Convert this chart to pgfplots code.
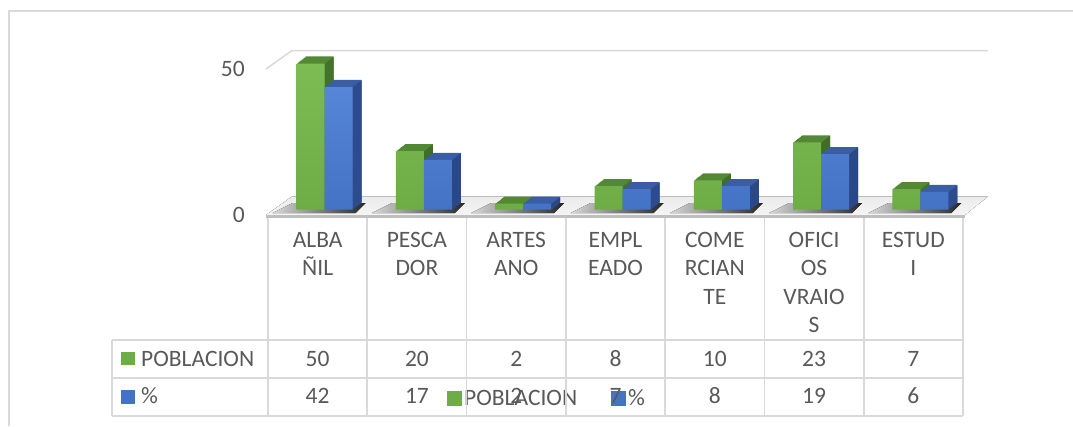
\documentclass[border=0pt]{standalone}
\usepackage{fontspec}
\setmainfont{Carlito}
\usepackage{pgfplots}
\usepackage{pgfplotstable}
\usetikzlibrary{calc}
\pgfplotsset{compat=1.18}

\definecolor{gfront}{HTML}{6EAD45}
\definecolor{gfrontl}{HTML}{7DBB53}
\definecolor{gtop}{HTML}{538835}
\definecolor{gside}{HTML}{406D28}
\definecolor{bfront}{HTML}{4472C4}
\definecolor{bfrontl}{HTML}{5686D8}
\definecolor{btop}{HTML}{3A5DA3}
\definecolor{bside}{HTML}{2A4888}
\definecolor{gridc}{HTML}{D9D9D9}
\definecolor{txt}{HTML}{595959}

\pgfplotstableread{
x pob pct
0 50 42
1 20 17
2 2 2
3 8 7
4 10 8
5 23 19
6 7 6
}\datos

\newcommand\cf{\fontsize{23.5}{28.5}\selectfont}

\begin{document}
\begin{tikzpicture}
\useasboundingbox (0,0) rectangle (1073pt,-426pt);
% outer frame
\draw[gridc, line width=1.5pt] (9pt,-426pt) -- (9pt,-11pt) -- (1073pt,-11pt);

\begin{axis}[
  at={(268pt,-215pt)}, anchor=south west,
  scale only axis, width=695pt, height=146pt,
  xmin=-0.5, xmax=6.5, ymin=0, ymax=50,
  clip=false,
  axis line style={draw=none},
  major tick length=0pt,
  tick style={draw=none},
  ytick={0,50},
  xtick={0,...,6},
  xticklabels={{ALBA\\ÑIL},{PESCA\\DOR},{ARTES\\ANO},{EMPL\\EADO},
               {COME\\RCIAN\\TE},{OFICI\\OS\\VRAIO\\S},{ESTUD\\I}},
  xticklabel style={align=center, anchor=north, inner sep=0pt, yshift=-17pt,
                    font=\cf, text=txt},
  yticklabel style={anchor=east, inner sep=0pt, xshift=-23pt, font=\cf, text=txt},
  /pgf/number format/assume math mode=true,
  legend columns=2,
  legend style={at={(0.2576,-1.255)}, anchor=west, draw=none, fill=none,
                inner sep=0pt, font=\cf, text=txt,
                nodes={inner sep=3pt},
                /tikz/every even column/.append style={column sep=31pt}},
]
% back wall gridline at 50
\draw[gridc, line width=1.5pt] ($(axis cs:-0.5,50)+(-2pt,0pt)$) -- ($(axis cs:-0.5,50)+(24pt,18.5pt)$) -- ($(axis cs:6.5,50)+(25pt,18.5pt)$);
% floor
\fill[top color=black!8, bottom color=black!4]
  ($(axis cs:-0.5,0)+(-2pt,0pt)$) -- ($(axis cs:-0.5,0)+(24pt,18.5pt)$)
  -- ($(axis cs:6.5,0)+(25pt,18.5pt)$) -- ($(axis cs:6.5,0)+(2pt,0pt)$) -- cycle;
\fill[black!25] ($(axis cs:-0.5,0)+(-2pt,0pt)$) rectangle ($(axis cs:6.5,0)+(2pt,-3pt)$);
% shadows on the floor
\pgfplotsinvokeforeach{0,1,2,3,4,5,6}{
  \fill[left color=black!15, right color=black!85]
    ($(axis cs:#1,0)+(-45pt,2pt)$) -- ($(axis cs:#1,0)+(38pt,2pt)$)
    -- ($(axis cs:#1,0)+(48pt,12pt)$) -- ($(axis cs:#1,0)+(-25pt,12pt)$) -- cycle;
}

% POBLACION bars: top, side, front
\pgfplotsinvokeforeach{9,8,7,6,5,4,3,2,1}{
  \addplot[forget plot, ybar, bar width=28pt, bar shift=-14pt, draw=none, fill=gtop,
    xshift={7pt+#1*1pt}, yshift={5.5pt+#1*0.78pt}] table[x=x,y=pob]{\datos};
}
\pgfplotsinvokeforeach{8,7,6,5,4,3,2,1,0}{
  \addplot[forget plot, ybar, bar width=1pt, bar shift=0.5pt, draw=none, fill=gside,
    xshift={7pt+#1*1pt}, yshift={5.5pt+#1*0.78pt}] table[x=x,y=pob]{\datos};
}
\addplot[forget plot, ybar, bar width=28pt, bar shift=-14pt, draw=none,
  top color=gfrontl, bottom color=gfront, xshift=7pt, yshift=5.5pt]
  table[x=x,y=pob]{\datos};

% % bars: top, side, front
\pgfplotsinvokeforeach{9,8,7,6,5,4,3,2,1}{
  \addplot[forget plot, ybar, bar width=28pt, bar shift=14pt, draw=none, fill=btop,
    xshift={7pt+#1*1pt}, yshift={5.5pt+#1*0.78pt}] table[x=x,y=pct]{\datos};
}
\pgfplotsinvokeforeach{8,7,6,5,4,3,2,1,0}{
  \addplot[forget plot, ybar, bar width=1pt, bar shift=28.5pt, draw=none, fill=bside,
    xshift={7pt+#1*1pt}, yshift={5.5pt+#1*0.78pt}] table[x=x,y=pct]{\datos};
}
\addplot[forget plot, ybar, bar width=28pt, bar shift=14pt, draw=none,
  top color=bfrontl, bottom color=bfront, xshift=7pt, yshift=5.5pt]
  table[x=x,y=pct]{\datos};

\addlegendimage{legend image code/.code={\fill[gfront] (0pt,-6.8pt) rectangle (13.6pt,6.8pt);}}
\addlegendentry{POBLACION}
\addlegendimage{legend image code/.code={\fill[bfront] (0pt,-6.8pt) rectangle (13.6pt,6.8pt);}}
\addlegendentry{\%}
\end{axis}

% data table grid
\begin{scope}[gridc, line width=1.6pt]
\foreach \i in {0,...,7}{
  \draw ({268pt+\i*99.2857pt},-218pt) -- ({268pt+\i*99.2857pt},-416pt);
}
\draw (112pt,-340pt) -- (112pt,-416pt);
\draw (112pt,-340pt) -- (963pt,-340pt);
\draw (112pt,-378pt) -- (963pt,-378pt);
\draw (112pt,-416pt) -- (963pt,-416pt);
\end{scope}
% row headers
\fill[gfront] (120.5pt,-351.5pt) rectangle (134.5pt,-365pt);
\node[anchor=base west, inner sep=0pt, font=\cf, text=txt] at (141pt,-366pt) {POBLACION};
\fill[bfront] (120.5pt,-390pt) rectangle (134.5pt,-403.5pt);
\node[anchor=base west, inner sep=0pt, font=\cf, text=txt] at (141pt,-403pt) {\%};
% values
\foreach \i in {0,...,6}{
  \pgfplotstablegetelem{\i}{pob}\of\datos
  \node[anchor=base, inner sep=0pt, font=\cf, text=txt] at ({268pt+(\i+0.5)*99.2857pt},-366pt) {\pgfplotsretval};
  \pgfplotstablegetelem{\i}{pct}\of\datos
  \node[anchor=base, inner sep=0pt, font=\cf, text=txt] at ({268pt+(\i+0.5)*99.2857pt},-403pt) {\pgfplotsretval};
}
\end{tikzpicture}
\end{document}
